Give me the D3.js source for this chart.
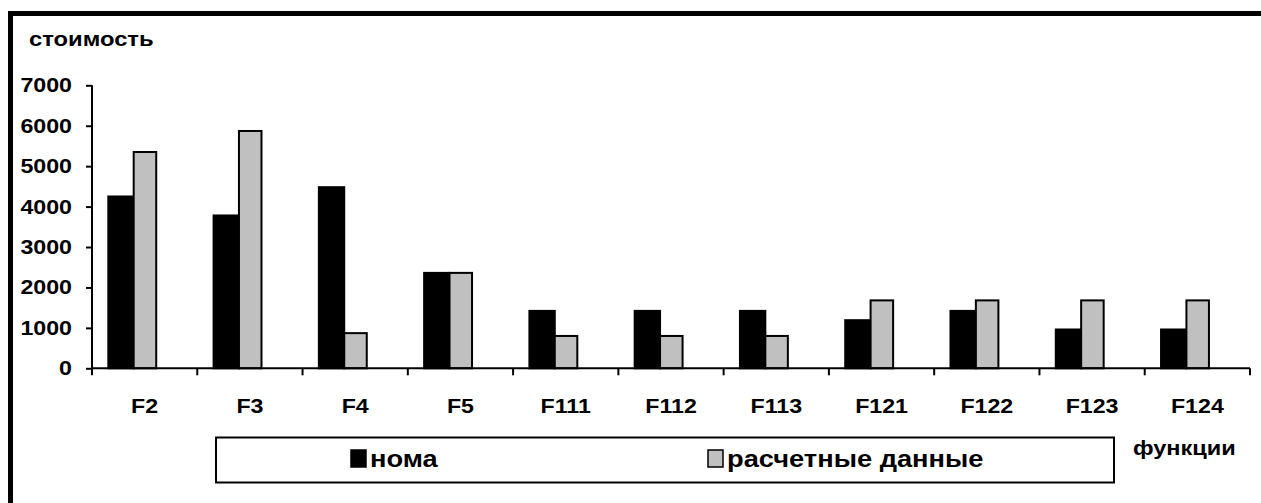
<!DOCTYPE html>
<html>
<head>
<meta charset="utf-8">
<script src="https://cdn.jsdelivr.net/npm/d3@7"></script>
<style>
  html, body { margin: 0; padding: 0; background: #fff; overflow: hidden; }
  svg { display: block; }
  text { font-family: "Liberation Sans", Arial, sans-serif; font-weight: bold; fill: #000; }
</style>
</head>
<body>
<svg id="chart" width="1261" height="503"></svg>
<script>
// Cost per function: normative vs calculated values
const categories = ["F2", "F3", "F4", "F5", "F111", "F112", "F113", "F121", "F122", "F123", "F124"];
const nomaValues = [4250, 3780, 4480, 2360, 1420, 1420, 1420, 1190, 1420, 960, 960];
const calcValues = [5350, 5870, 870, 2360, 800, 800, 800, 1680, 1680, 1680, 1680];
const yTickValues = [0, 1000, 2000, 3000, 4000, 5000, 6000, 7000];
const seriesNames = ["нома", "расчетные данные"];
const yTitle = "стоимость";
const xTitle = "функции";

const svg = d3.select("#chart");
const SX = 1.16; // horizontal stretch applied to all labels

function label(sel, x, y, str, size, anchor) {
  return sel.append("text")
    .attr("transform", `translate(${x},${y}) scale(${SX},1)`)
    .attr("text-anchor", anchor || "start")
    .style("font-size", size + "px")
    .text(str);
}

// outer frame (extends past the right and bottom edges)
svg.append("rect")
  .attr("x", 10.5).attr("y", 13.5)
  .attr("width", 1400).attr("height", 600)
  .attr("fill", "none").attr("stroke", "#000").attr("stroke-width", 5);

const x = d3.scaleBand().domain(categories).range([92, 1250]).padding(0);
const y = d3.scaleLinear().domain([0, 7000]).range([368.3, 85.3]);
const bw = x.bandwidth();

const g = svg.append("g");

// bars
categories.forEach((c, i) => {
  const x0 = x(c);
  g.append("rect")
    .attr("x", x0 + 0.155 * bw).attr("width", 0.241 * bw)
    .attr("y", y(nomaValues[i])).attr("height", y(0) - y(nomaValues[i]))
    .attr("fill", "#000").attr("stroke", "#000").attr("stroke-width", 2);
  g.append("rect")
    .attr("x", x0 + 0.396 * bw).attr("width", 0.214 * bw)
    .attr("y", y(calcValues[i])).attr("height", y(0) - y(calcValues[i]))
    .attr("fill", "#c0c0c0").attr("stroke", "#000").attr("stroke-width", 2);
});

// y axis
const yAxis = d3.axisLeft(y).tickValues(yTickValues).tickSize(6).tickFormat("");
const ya = svg.append("g").attr("transform", "translate(92,0)").call(yAxis);
ya.select(".domain").attr("d", `M0,${y(7000)}V${y(0) + 7}`).attr("stroke-width", 2);
ya.selectAll(".tick line").attr("stroke-width", 2);
yTickValues.forEach(v => label(svg, 72, y(v) + 7, String(v), 20, "end"));

// x axis
const xAxis = d3.axisBottom(x).tickSize(0).tickFormat("");
const xa = svg.append("g").attr("transform", `translate(0,${y(0)})`).call(xAxis);
xa.select(".domain").attr("d", "M92,0H1250").attr("stroke-width", 2);
categories.forEach(c => {
  xa.append("line")
    .attr("x1", x(c) + bw).attr("x2", x(c) + bw)
    .attr("y1", 0).attr("y2", 7)
    .attr("stroke", "#000").attr("stroke-width", 2);
  label(svg, x(c) + bw / 2, 413, c, 20, "middle");
});

// axis titles
label(svg, 29, 46, yTitle, 20.5, "start");
label(svg, 1133, 455, xTitle, 20.3, "start");

// legend
const lg = svg.append("g");
lg.append("rect").attr("x", 216).attr("y", 437.5).attr("width", 898).attr("height", 45)
  .attr("fill", "#fff").attr("stroke", "#000").attr("stroke-width", 2);
const legendItems = [
  { name: seriesNames[0], fill: "#000", x: 351 },
  { name: seriesNames[1], fill: "#c0c0c0", x: 708 }
];
legendItems.forEach(it => {
  lg.append("rect").attr("x", it.x).attr("y", 450).attr("width", 15).attr("height", 17)
    .attr("fill", it.fill).attr("stroke", "#000").attr("stroke-width", 1.5);
  label(lg, it.x + 19, 467, it.name, 23.5, "start");
});
</script>
</body>
</html>
